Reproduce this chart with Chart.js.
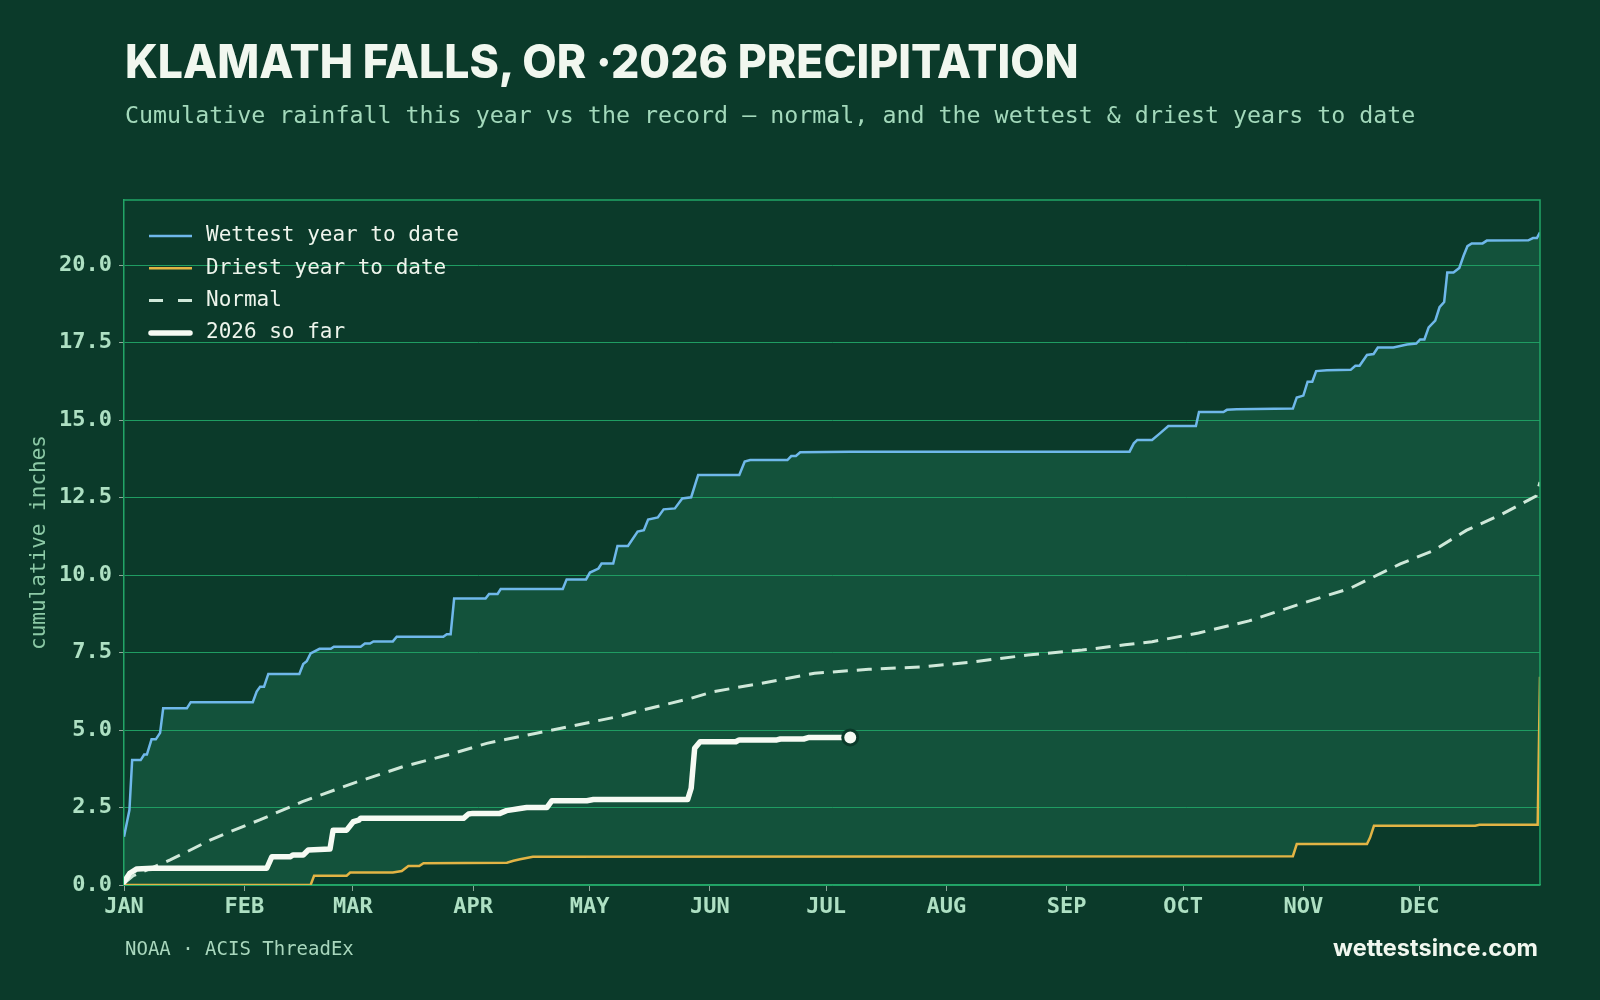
<!DOCTYPE html>
<html>
<head>
<meta charset="utf-8">
<title>Klamath Falls precipitation</title>
<script src="https://cdn.jsdelivr.net/npm/chart.js@4.4.1/dist/chart.umd.min.js"></script>
<style>
  html, body { margin: 0; padding: 0; background: #0b3a2a; }
  #wrap { position: relative; width: 1600px; height: 1000px; overflow: hidden; }
  #precip { position: absolute; left: 0; top: 0; }
  .title {
    position: absolute; left: 125px; top: 33px;
    font-family: Inter, "Noto Sans", sans-serif; font-weight: 800;
    font-size: 46px; color: #f1f7ef; white-space: nowrap;
    transform-origin: left top; transform: scaleX(0.968);
  }
  .subtitle {
    position: absolute; left: 125px; top: 101px;
    font-family: "DejaVu Sans Mono", monospace; font-size: 23.3px;
    color: #a3d9bb; white-space: nowrap;
  }
  .source {
    position: absolute; left: 125px; top: 937px;
    font-family: "DejaVu Sans Mono", monospace; font-size: 19px;
    color: #a9d7bd; white-space: nowrap;
  }
  .site {
    position: absolute; right: 62px; top: 933px;
    font-family: Inter, "Noto Sans", sans-serif; font-weight: 700;
    font-size: 23.5px; color: #f1f7ef; white-space: nowrap;
  }
</style>
</head>
<body>
<div id="wrap">
  <canvas id="precip" width="1600" height="1000"></canvas>
  <div class="title">KLAMATH FALLS, OR ·2026 PRECIPITATION</div>
  <div class="subtitle">Cumulative rainfall this year vs the record — normal, and the wettest &amp; driest years to date</div>
  <div class="source">NOAA · ACIS ThreadEx</div>
  <div class="site">wettestsince.com</div>
</div>
<script>
// x = day of year (0 = Jan 1), y = cumulative inches
var monthStarts = [0, 31, 59, 90, 120, 151, 181, 212, 243, 273, 304, 334];
var monthLabels = ['JAN', 'FEB', 'MAR', 'APR', 'MAY', 'JUN', 'JUL', 'AUG', 'SEP', 'OCT', 'NOV', 'DEC'];
var yTicks = [0, 2.5, 5, 7.5, 10, 12.5, 15, 17.5, 20];

var wettestDays = [0, 1.4, 2.1, 4.3, 5.2, 5.9, 7.1, 8.2, 9.3, 10.1, 16.2, 17.2, 33.2, 34.2, 35.1, 36.1, 37.2, 45.2, 46.2, 47.1,
  48.1, 50.4, 53.3, 54.1, 61, 62.1, 63.4, 64.3, 69.3, 70.3, 82.3, 83.2, 84.2, 85.1, 93.2, 94.1, 96.3, 97.1, 113.1, 114.1,
  119.1, 120.1, 122.3, 123.1, 126.1, 127.2, 129.9, 132.4, 134, 135.1, 137.6, 139.1, 142, 143.9, 146.2, 148, 158.6, 160, 161.4, 171,
  172, 173.2, 174.3, 187.2, 259.2, 260.3, 261.2, 265, 267.1, 269.2, 276.3, 277.1, 283.4, 284.3, 286.8, 301.3, 302.3, 304, 305.1, 306.3,
  307.3, 310.1, 316.2, 317.4, 318.5, 320.4, 322.1, 323.2, 327.2, 330.7, 333.1, 334.1, 335.2, 336.3, 338, 339.1, 340.3, 341.1, 342.7, 344.2,
  345.3, 346.3, 347.4, 350.2, 351.3, 362, 363.2, 364.2, 365];
var wettestInches = [1.56, 2.42, 4.03, 4.03, 4.21, 4.21, 4.70, 4.70, 4.91, 5.70, 5.70, 5.90, 5.90, 6.24, 6.40, 6.40, 6.81, 6.81, 7.13, 7.22,
  7.47, 7.62, 7.62, 7.69, 7.69, 7.79, 7.79, 7.86, 7.86, 8.01, 8.01, 8.09, 8.09, 9.24, 9.24, 9.39, 9.39, 9.55, 9.55, 9.86,
  9.86, 10.08, 10.21, 10.37, 10.37, 10.94, 10.94, 11.40, 11.45, 11.79, 11.86, 12.12, 12.15, 12.47, 12.51, 13.23, 13.23, 13.66, 13.71, 13.71,
  13.84, 13.84, 13.96, 13.98, 13.98, 14.25, 14.36, 14.36, 14.58, 14.81, 14.81, 15.26, 15.26, 15.33, 15.35, 15.37, 15.73, 15.79, 16.24, 16.24,
  16.58, 16.61, 16.62, 16.75, 16.75, 17.10, 17.13, 17.34, 17.34, 17.44, 17.47, 17.60, 17.60, 17.99, 18.21, 18.64, 18.81, 19.76, 19.76, 19.91,
  20.30, 20.61, 20.70, 20.70, 20.79, 20.80, 20.87, 20.87, 21.06];

var driestDays = [0, 48.1, 49, 57.4, 58.3, 69.3, 71.6, 73.3, 76.1, 77.2, 98.7, 100.4, 102.1, 105.4, 301.3, 302.3, 320.4, 321.2, 322.2, 348.3,
  349.4, 364.4, 365];
var driestInches = [0, 0, 0.30, 0.30, 0.40, 0.40, 0.45, 0.61, 0.61, 0.70, 0.72, 0.78, 0.83, 0.91, 0.93, 1.32, 1.32, 1.53, 1.91, 1.91,
  1.94, 1.94, 6.72];

var normalDays = [0, 2.4, 11.9, 16.2, 22.2, 27.3, 35, 46, 59, 72, 85, 93.5, 106, 119, 128, 132, 146, 152, 164, 178,
  192, 206, 219, 233, 247, 258, 265, 277, 290, 303, 316, 329, 337.5, 346, 355, 362.5, 364, 365];
var normalInches = [0.05, 0.30, 0.81, 1.07, 1.45, 1.72, 2.10, 2.69, 3.28, 3.82, 4.25, 4.57, 4.89, 5.22, 5.45, 5.59, 6.02, 6.24, 6.50, 6.83,
  6.96, 7.04, 7.20, 7.42, 7.58, 7.75, 7.85, 8.13, 8.52, 9.06, 9.57, 10.36, 10.79, 11.44, 11.95, 12.45, 12.55, 13.0];

var thisYearDays = [0, 1.5, 3.3, 7.3, 36.8, 38.1, 42.8, 43.6, 46.2, 47.5, 53.1, 53.9, 57.4, 59.1, 60.5, 61, 87.5, 88.8, 89.9, 96.9,
  98.6, 102.1, 103.8, 109, 110.3, 119.3, 121, 145.3, 146.2, 147.1, 148.5, 157.7, 158.6, 168.3, 169.2, 175.2, 176.6, 187.2];
var thisYearInches = [0.10, 0.38, 0.52, 0.54, 0.54, 0.91, 0.91, 0.97, 0.97, 1.13, 1.16, 1.77, 1.77, 2.04, 2.09, 2.15, 2.15, 2.29, 2.31, 2.31,
  2.40, 2.47, 2.50, 2.50, 2.72, 2.72, 2.76, 2.76, 3.12, 4.41, 4.62, 4.62, 4.68, 4.68, 4.71, 4.71, 4.76, 4.76];

function pts(days, inches) {
  return days.map(function (d, i) { return { x: d, y: inches[i] }; });
}

var BG = '#0b3a2a';
var GRID = '#1f9c62';
var TICKMARK = '#8da79a';
var TICKTEXT = '#aee0c3';
var monoBold = { family: 'DejaVu Sans Mono', size: 22, weight: 'bold' };

// top + right frame of the plot
var frame = {
  id: 'frame',
  afterDatasetsDraw: function (chart) {
    var a = chart.chartArea, c = chart.ctx;
    c.save();
    c.strokeStyle = '#22a567';
    c.lineWidth = 1.5;
    c.beginPath();
    c.moveTo(a.left, a.top);
    c.lineTo(a.right, a.top);
    c.lineTo(a.right, a.bottom);
    c.stroke();
    c.restore();
  }
};

// legend drawn inside the plot, top-left
var insideLegend = {
  id: 'insideLegend',
  afterDraw: function (chart) {
    var c = chart.ctx, a = chart.chartArea;
    var x0 = a.left + 25, y0 = a.top + 36, row = 32.3;
    c.save();
    chart.data.datasets.forEach(function (ds, i) {
      var y = y0 + i * row;
      var inset = ds.borderWidth > 3 ? 2 : 0;
      c.beginPath();
      c.strokeStyle = ds.borderColor;
      c.lineWidth = ds.borderWidth;
      c.lineCap = ds.borderCapStyle || 'butt';
      c.setLineDash(ds.borderDash ? [14, 15] : []);
      c.moveTo(x0 + inset, y);
      c.lineTo(x0 + 43 - inset, y);
      c.stroke();
      c.setLineDash([]);
      c.fillStyle = '#eef5ec';
      c.font = '21px "DejaVu Sans Mono"';
      c.textBaseline = 'middle';
      c.fillText(ds.label, x0 + 57, y);
    });
    c.restore();
  }
};

var ctx = document.getElementById('precip').getContext('2d');
var precipChart = new Chart(ctx, {
  type: 'line',
  data: {
    datasets: [{
      label: 'Wettest year to date',
      data: pts(wettestDays, wettestInches),
      borderColor: '#6fb8ea',
      borderWidth: 2.5,
      backgroundColor: '#13523b',
      fill: '+1',
      pointRadius: 0,
      order: 3
    }, {
      label: 'Driest year to date',
      data: pts(driestDays, driestInches),
      borderColor: '#e2b445',
      borderWidth: 2.5,
      pointRadius: 0,
      fill: false,
      order: 2
    }, {
      label: 'Normal',
      data: pts(normalDays, normalInches),
      borderColor: '#cfe8d9',
      borderWidth: 3,
      borderDash: [15, 9],
      pointRadius: 0,
      fill: false,
      order: 1
    }, {
      label: '2026 so far',
      data: pts(thisYearDays, thisYearInches),
      borderColor: '#f6faf3',
      borderWidth: 5.5,
      borderCapStyle: 'round',
      borderJoinStyle: 'round',
      pointRadius: function (c) { return c.dataIndex === thisYearDays.length - 1 ? 7.5 : 0; },
      pointBackgroundColor: '#f6faf3',
      pointBorderColor: BG,
      pointBorderWidth: 3,
      fill: false,
      order: 0
    }]
  },
  options: {
    responsive: false,
    animation: false,
    events: [],
    layout: { padding: { left: 0, top: 200, right: 60, bottom: 65 } },
    scales: {
      x: {
        type: 'linear',
        min: 0,
        max: 365,
        afterBuildTicks: function (s) { s.ticks = monthStarts.map(function (v) { return { value: v }; }); },
        afterFit: function (s) { s.height = 50; },
        ticks: {
          autoSkip: false,
          maxRotation: 0,
          padding: 3,
          color: TICKTEXT,
          font: monoBold,
          callback: function (v, i) { return monthLabels[i]; }
        },
        grid: { drawOnChartArea: false, tickLength: 6, tickColor: TICKMARK, tickWidth: 1 },
        border: { color: '#22a567', width: 1.5 }
      },
      y: {
        min: 0,
        max: 22.1,
        afterBuildTicks: function (s) { s.ticks = yTicks.map(function (v) { return { value: v }; }); },
        afterFit: function (s) { s.width = 124; },
        ticks: {
          padding: 7,
          color: TICKTEXT,
          font: monoBold,
          callback: function (v) { return v.toFixed(1); }
        },
        grid: { color: GRID, lineWidth: 1, tickLength: 5, tickColor: TICKMARK },
        border: { color: '#22a567', width: 1.5 },
        title: {
          display: true,
          text: 'cumulative inches',
          color: '#8cc9a6',
          font: { family: 'DejaVu Sans Mono', size: 21 },
          padding: { top: 27, bottom: 0 }
        }
      }
    },
    plugins: {
      legend: { display: false },
      tooltip: { enabled: false },
      filler: { drawTime: 'beforeDraw' }
    }
  },
  plugins: [frame, insideLegend]
});
</script>
</body>
</html>
